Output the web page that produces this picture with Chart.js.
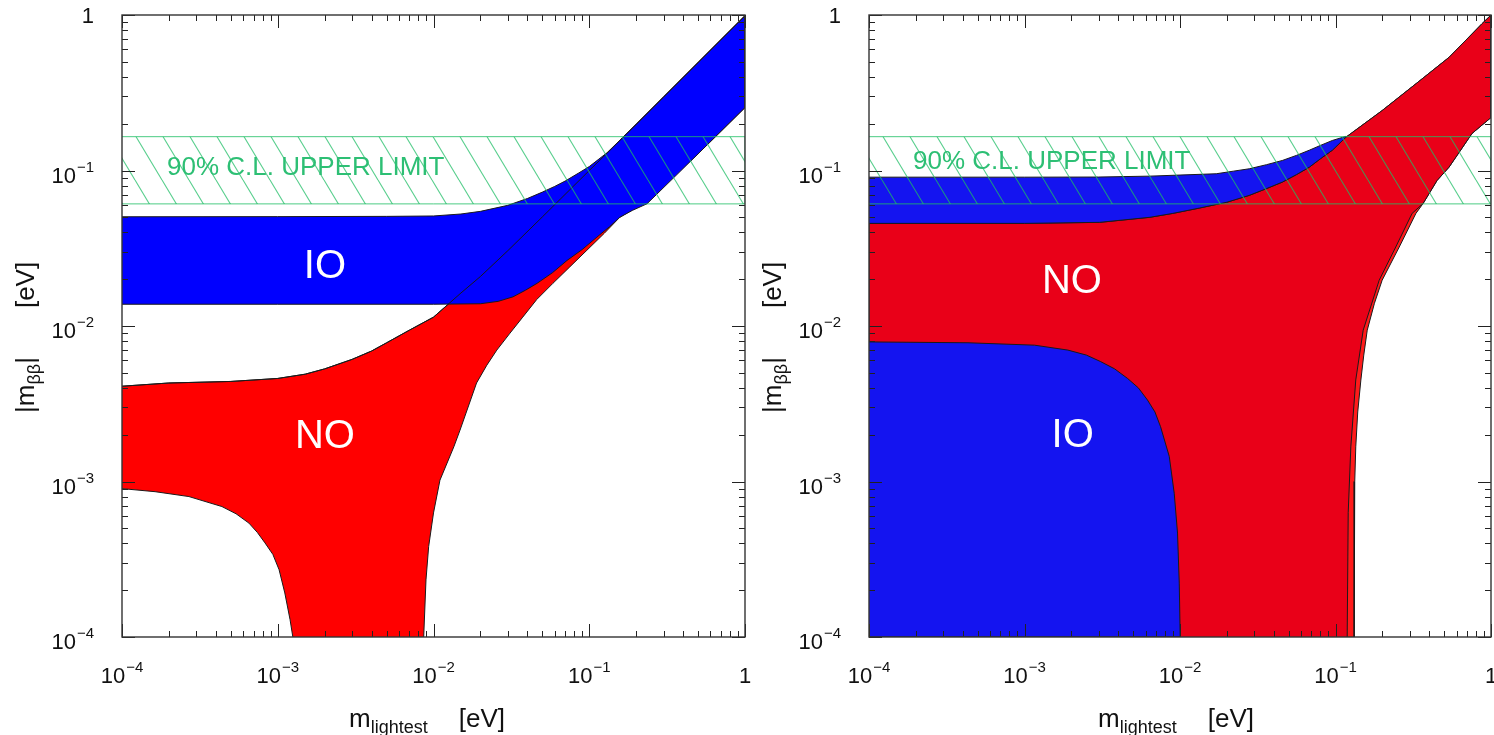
<!DOCTYPE html>
<html><head><meta charset="utf-8">
<script src="https://cdn.jsdelivr.net/npm/chart.js@4.4.1/dist/chart.umd.min.js"></script>
<style>
html,body{margin:0;padding:0;background:#fff;width:1494px;height:735px;overflow:hidden;}
#wrap{position:relative;width:1494px;height:735px;font-family:'Liberation Sans',Arial,sans-serif;color:#111;}
canvas{position:absolute;top:0;}
.t{position:absolute;font-size:26px;line-height:26px;white-space:nowrap;}
.t .sb{font-size:18px;position:relative;top:6px;}
.t .ev{margin-left:31px;}
.r{transform-origin:0 0;transform:rotate(-90deg);}
.r .ev{margin-left:49px;}
</style></head>
<body><div id="wrap">
<canvas id="c1" width="760" height="735" style="left:0"></canvas>
<canvas id="c2" width="747" height="735" style="left:747px"></canvas>
<div class="t" style="left:349px;top:705px">m<span class="sb">lightest</span><span class="ev">[eV]</span></div>
<div class="t" style="left:1098px;top:705px">m<span class="sb">lightest</span><span class="ev">[eV]</span></div>
<div class="t r" style="left:12px;top:413px">|m<span class="sb">ββ</span>|<span class="ev">[eV]</span></div>
<div class="t r" style="left:759px;top:413px">|m<span class="sb">ββ</span>|<span class="ev">[eV]</span></div>
</div>
<script>
// ---------- axis ticks ----------
const tickValues = [1e-4, 1e-3, 1e-2, 1e-1, 1];
const tickBase = ['10', '10', '10', '10', '1'];
const tickExponent = ['\u22124', '\u22123', '\u22122', '\u22121', ''];

// ---------- 90% C.L. upper limit band ----------
const bandX = [1e-4, 1, 1, 1e-4];
const bandY = [0.061, 0.061, 0.165, 0.165];

// ---------- left panel ----------
const leftIOUpperX = [1e-4, 1e-3, 5e-3, 1e-2, 1.5e-2, 2e-2, 3e-2, 4e-2, 5e-2, 6e-2, 7e-2, 8.5e-2, 0.1, 0.13, 0.2, 0.3, 0.5, 0.7, 1];
const leftIOUpperY = [0.0504, 0.0505, 0.0507, 0.051, 0.0525, 0.0546, 0.0597, 0.066, 0.0726, 0.079, 0.0855, 0.096, 0.106, 0.13, 0.198, 0.297, 0.495, 0.693, 0.99];
const leftIOLowerX = [1e-4, 1e-3, 1e-2, 2e-2, 2.6e-2, 3.24e-2, 3.9e-2, 4.62e-2, 5.8e-2, 7.2e-2, 9e-2, 0.112, 0.135, 0.157, 0.19, 0.235, 0.5, 1];
const leftIOLowerY = [0.0138, 0.0138, 0.0138, 0.0139, 0.0144, 0.0154, 0.017, 0.0188, 0.022, 0.0264, 0.031, 0.0373, 0.0435, 0.050, 0.0555, 0.0611, 0.128, 0.254];
const leftNOUpperX = [1e-4, 2e-4, 5e-4, 1e-3, 1.5e-3, 2e-3, 3e-3, 4e-3, 5e-3, 7e-3, 1e-2, 1.5e-2, 2e-2, 3e-2, 5e-2, 0.1, 0.13, 0.2, 0.3, 0.5, 0.7, 1];
const leftNOUpperY = [0.0041, 0.0043, 0.0044, 0.0046, 0.0049, 0.0053, 0.0061, 0.0069, 0.0078, 0.0094, 0.0114, 0.0163, 0.0208, 0.0305, 0.0503, 0.1, 0.129, 0.198, 0.297, 0.495, 0.693, 0.99];
const leftNOLowerX = [1e-4, 1.63e-4, 2.69e-4, 4.38e-4, 5.4e-4, 6.53e-4, 7.4e-4, 8.28e-4, 9.3e-4, 1.02e-3, 1.11e-3, 1.2e-3, 1.25e-3, 1.27e-3,
                      8.6e-3, 8.65e-3, 8.95e-3, 9.31e-3, 1.0e-2, 1.10e-2, 1.35e-2, 1.48e-2, 1.89e-2, 2.2e-2, 2.55e-2, 3.1e-2, 3.74e-2, 4.6e-2, 5.84e-2, 7.5e-2, 9.66e-2, 0.125, 0.157, 0.221, 0.5, 1];
const leftNOLowerY = [9.0e-4, 8.6e-4, 8.0e-4, 6.9e-4, 6.2e-4, 5.4e-4, 4.7e-4, 4.03e-4, 3.4e-4, 2.71e-4, 1.92e-4, 1.29e-4, 1.0e-4, 1e-6,
                      1e-6, 1.0e-4, 2.33e-4, 3.82e-4, 6.28e-4, 1.02e-3, 1.67e-3, 2.14e-3, 4.3e-3, 5.6e-3, 7.0e-3, 9.0e-3, 1.14e-2, 1.48e-2, 1.88e-2, 2.4e-2, 3.07e-2, 3.95e-2, 5.0e-2, 6.14e-2, 0.128, 0.254];
const leftLabelText = ['IO', 'NO', '90% C.L. UPPER LIMIT'];
const leftLabelX = [2.01e-3, 2.01e-3, 1.945e-4];
const leftLabelY = [0.0239, 1.93e-3, 0.1047];

// ---------- right panel ----------
const rightNOUpperX = [1e-4, 1e-3, 3.04e-3, 6.4e-3, 9e-3, 1.33e-2, 2e-2, 2.79e-2, 3.6e-2, 4.55e-2, 5.6e-2, 6.78e-2, 8e-2, 9.54e-2, 0.117, 0.1995, 0.33, 0.537, 0.875, 1];
const rightNOUpperY = [0.0457, 0.0457, 0.0464, 0.0500, 0.053, 0.0573, 0.0625, 0.0692, 0.0765, 0.0842, 0.094, 0.105, 0.119, 0.135, 0.164, 0.243, 0.362, 0.534, 0.879, 1.0];
const rightIOUpperX = [1e-4, 1e-3, 3e-3, 6.4e-3, 1e-2, 1.71e-2, 2.2e-2, 2.79e-2, 3.6e-2, 4.55e-2, 5.6e-2, 6.78e-2, 8e-2, 9.54e-2, 0.117];
const rightIOUpperY = [0.0906, 0.0906, 0.0908, 0.092, 0.0935, 0.0953, 0.099, 0.1026, 0.109, 0.116, 0.125, 0.135, 0.145, 0.156, 0.166];
const rightNOEdgeX = [1, 0.755, 0.537, 0.45, 0.366, 0.329, 0.257, 0.1995, 0.178, 0.16, 0.152, 0.1456, 0.139, 0.135, 0.133, 0.1318, 0.1318];
const rightNOEdgeY = [0.219, 0.173, 0.105, 0.0863, 0.0614, 0.053, 0.0322, 0.0197, 0.014, 0.0094, 0.0065, 0.00449, 0.0028, 0.00167, 0.001, 6.28e-4, 1e-4];
const rightNOInnerX = [0.366, 0.311, 0.244, 0.191, 0.1507, 0.135, 0.1255, 0.1207, 0.1189];
const rightNOInnerY = [0.0614, 0.053, 0.0322, 0.0197, 0.0094, 0.0045, 0.00167, 6.3e-4, 1e-4];
const rightIOLowX = [1e-4, 4.33e-4, 1.16e-3, 1.9e-3, 2.5e-3, 3.09e-3, 3.8e-3, 4.6e-3, 5.4e-3, 6.18e-3, 6.9e-3, 7.5e-3, 8.53e-3, 9.18e-3, 9.64e-3, 9.89e-3, 1.003e-2];
const rightIOLowY = [0.0079, 0.0078, 0.00753, 0.0070, 0.0065, 0.0059, 0.0053, 0.0046, 0.0040, 0.00334, 0.0028, 0.00225, 0.00145, 8.4e-4, 4.66e-4, 2.22e-4, 1e-4];
const rightLabelText = ['NO', 'IO', '90% C.L. UPPER LIMIT'];
const rightLabelX = [2.02e-3, 2.04e-3, 1.92e-4];
const rightLabelY = [0.0191, 1.96e-3, 0.1143];

// ---------- helpers ----------
const FONT = "'Liberation Sans', Arial, sans-serif";
const pts = (xs, ys) => xs.map((x, i) => ({x: x, y: ys[i]}));
const rev = a => a.slice().reverse();
const GREEN_LINE = 'rgba(30,190,100,0.8)';

function hatchPattern() {
  const c = document.createElement('canvas');
  c.width = 27; c.height = 45;
  const g = c.getContext('2d');
  g.strokeStyle = 'rgba(30,190,100,0.75)';
  g.lineWidth = 1.1;
  for (const x0 of [-27, 0, 27]) {
    g.beginPath(); g.moveTo(x0, 0); g.lineTo(x0 + 27, 45); g.stroke();
  }
  return g.createPattern(c, 'repeat');
}

function poly(data, color, order) {
  return {data: data, fill: 'shape', backgroundColor: color, borderColor: '#1a1a1a', borderWidth: 1,
          pointRadius: 0, pointHitRadius: 0, tension: 0, order: order};
}
function line(data, order) {
  return {data: data, fill: false, borderColor: '#1a1a1a', borderWidth: 1, pointRadius: 0, pointHitRadius: 0, tension: 0, order: order};
}
function band(order) {
  return {data: pts(bandX, bandY), fill: 'shape', backgroundColor: hatchPattern(), borderColor: GREEN_LINE, borderWidth: 1,
          pointRadius: 0, pointHitRadius: 0, tension: 0, order: order};
}

// frame, inward ticks and tick labels with superscript exponents
const framePlugin = {
  id: 'frame',
  afterDatasetsDraw(chart) {
    const ctx = chart.ctx, a = chart.chartArea, x = chart.scales.x, y = chart.scales.y;
    ctx.save();
    ctx.strokeStyle = '#222';
    ctx.lineWidth = 1;
    for (let e = -4; e <= 0; e++) {
      for (let m = 1; m <= 9; m++) {
        const v = m * Math.pow(10, e);
        if (v > 1.000001) break;
        const L = m === 1 ? 13 : 6;
        const px = Math.round(x.getPixelForValue(v)) + 0.5;
        const py = Math.round(y.getPixelForValue(v)) + 0.5;
        ctx.beginPath();
        ctx.moveTo(px, a.bottom); ctx.lineTo(px, a.bottom - L);
        ctx.moveTo(px, a.top); ctx.lineTo(px, a.top + L);
        ctx.moveTo(a.left, py); ctx.lineTo(a.left + L, py);
        ctx.moveTo(a.right, py); ctx.lineTo(a.right - L, py);
        ctx.stroke();
      }
    }
    ctx.lineWidth = 1.4;
    ctx.strokeStyle = '#333';
    ctx.strokeRect(a.left, a.top, a.right - a.left, a.bottom - a.top);

    // tick labels
    ctx.fillStyle = '#111';
    ctx.textBaseline = 'alphabetic';
    const big = '22px ' + FONT, small = '15px ' + FONT;
    tickValues.forEach((v, i) => {
      ctx.font = big;
      const wb = ctx.measureText(tickBase[i]).width;
      ctx.font = small;
      const we = tickExponent[i] ? ctx.measureText(tickExponent[i]).width + 1 : 0;
      const w = wb + we;
      // x axis
      const px = x.getPixelForValue(v);
      let x0 = px - w / 2;
      ctx.textAlign = 'left';
      ctx.font = big; ctx.fillText(tickBase[i], x0, a.bottom + 46);
      if (we) { ctx.font = small; ctx.fillText(tickExponent[i], x0 + wb + 1, a.bottom + 35); }
      // y axis
      const py = y.getPixelForValue(v);
      x0 = a.left - 28 - w;
      ctx.font = big;
      ctx.fillText(tickBase[i], x0, py + (we ? 12 : 8));
      if (we) { ctx.font = small; ctx.fillText(tickExponent[i], x0 + wb + 1, py + 1); }
    });
    ctx.restore();
  }
};

function labelPlugin(texts, xs, ys) {
  return {
    id: 'regionLabels',
    afterDatasetsDraw(chart) {
      const ctx = chart.ctx, x = chart.scales.x, y = chart.scales.y;
      ctx.save();
      ctx.textBaseline = 'middle';
      texts.forEach((t, i) => {
        const big = t.length <= 2;
        ctx.font = (big ? 40 : 26) + 'px ' + FONT;
        ctx.fillStyle = big ? '#ffffff' : '#2dbf74';
        ctx.textAlign = big ? 'center' : 'left';
        ctx.fillText(t, x.getPixelForValue(xs[i]), y.getPixelForValue(ys[i]));
      });
      ctx.restore();
    }
  };
}

function scaleCfg(axis) {
  const base = {
    type: 'logarithmic', min: 1e-4, max: 1,
    grid: {display: false, drawTicks: false},
    border: {display: false},
    afterBuildTicks: s => { s.ticks = tickValues.map(v => ({value: v})); },
    ticks: {display: false, autoSkip: false, maxRotation: 0, minRotation: 0}
  };
  const zeroPad = s => { s.paddingTop = 0; s.paddingBottom = 0; s.paddingLeft = 0; s.paddingRight = 0; };
  if (axis === 'x') {
    base.position = 'bottom';
    base.afterFit = s => { s.height = 98; zeroPad(s); };
  } else {
    base.position = 'left';
    base.afterFit = s => { s.width = 122; zeroPad(s); };
  }
  return base;
}

function makeChart(id, datasets, plugins, padRight) {
  return new Chart(document.getElementById(id), {
    type: 'line',
    data: {datasets: datasets},
    options: {
      responsive: false, animation: false, events: [],
      layout: {padding: {top: 15, right: padRight, left: 0, bottom: 0}},
      plugins: {legend: {display: false}, tooltip: {enabled: false}},
      scales: {x: scaleCfg('x'), y: scaleCfg('y')}
    },
    plugins: plugins
  });
}

// left: NO (red) below IO (blue), NO upper edge visible through IO, band on top
makeChart('c1', [
  band(0),
  line(pts(leftNOUpperX, leftNOUpperY), 1),
  poly(pts(leftIOUpperX, leftIOUpperY).concat(rev(pts(leftIOLowerX, leftIOLowerY))), '#0000ff', 2),
  poly(pts(leftNOUpperX, leftNOUpperY).concat(rev(pts(leftNOLowerX, leftNOLowerY))), '#ff0000', 3)
], [framePlugin, labelPlugin(leftLabelText, leftLabelX, leftLabelY)], 15);

// right
makeChart('c2', [
  band(0),
  poly(pts(rightIOLowX, rightIOLowY).concat([{x: 1e-4, y: 1e-4}]), '#1414f0', 1),
  poly(pts(rightIOUpperX, rightIOUpperY).concat(rev(pts(rightNOUpperX, rightNOUpperY).filter(p => p.x <= 0.117))), '#1414f0', 2),
  poly([{x: 1e-4, y: 1e-4}].concat(pts(rightNOUpperX, rightNOUpperY), pts(rightNOEdgeX.slice(0, 5), rightNOEdgeY.slice(0, 5)), pts(rightNOInnerX, rightNOInnerY)), '#e90018', 3),
  poly([{x: 1e-4, y: 1e-4}].concat(pts(rightNOUpperX, rightNOUpperY), pts(rightNOEdgeX, rightNOEdgeY)), '#ff1a1a', 4)
], [framePlugin, labelPlugin(rightLabelText, rightLabelX, rightLabelY)], 3);
</script>
</body></html>
